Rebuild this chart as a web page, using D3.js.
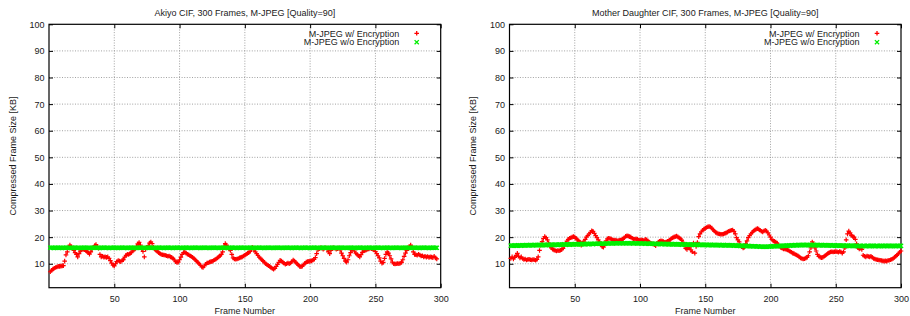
<!DOCTYPE html>
<html><head><meta charset="utf-8">
<script src="https://cdn.jsdelivr.net/npm/d3@7"></script>
<style>
html,body{margin:0;padding:0;background:#fff;}
svg{display:block;font-family:"Liberation Sans",Arial,Helvetica,sans-serif;}
</style></head>
<body>
<svg id="chart" width="910" height="316"></svg>
<script>
// ---------- data ----------
const titles = ["Akiyo CIF, 300 Frames, M-JPEG [Quality=90]", "Mother Daughter CIF, 300 Frames, M-JPEG [Quality=90]"];
const seriesNames = ["M-JPEG w/ Encryption", "M-JPEG w/o Encryption"];
const xLabel = "Frame Number";
const yLabel = "Compressed Frame Size [KB]";
const xTicks = [50, 100, 150, 200, 250, 300];
const yTicks = [10, 20, 30, 40, 50, 60, 70, 80, 90, 100];

// Akiyo, with encryption (frames 1..297)
const akiyoEnc = [
 7.0, 7.5, 8.0, 8.3, 8.6, 8.8, 9.0, 9.0, 9.1, 9.2,
 9.3, 11.0, 13.3, 14.5, 16.0, 17.0, 16.5, 15.8, 15.0, 14.2,
 13.5, 12.6, 13.8, 14.8, 15.2, 15.5, 15.3, 15.0, 14.6, 14.2,
 13.6, 14.5, 15.5, 16.2, 16.8, 17.2, 16.5, 15.8, 13.5, 12.6,
 12.8, 12.5, 12.6, 12.4, 12.6, 12.0, 11.2, 10.2, 9.5, 9.2,
 10.0, 10.8, 11.2, 11.0, 10.8, 11.3, 11.5, 12.5, 13.2, 13.6,
 13.5, 13.8, 14.2, 14.8, 15.2, 15.6, 16.5, 17.5, 18.0, 17.0,
 15.7, 14.6, 12.6, 15.4, 16.0, 16.8, 17.8, 18.2, 17.6, 16.2,
 15.5, 15.0, 14.6, 14.2, 13.8, 13.5, 13.4, 13.3, 13.2, 13.0,
 12.8, 12.9, 12.6, 12.4, 12.0, 11.5, 10.8, 10.5, 10.6, 11.5,
 12.5, 13.5, 14.2, 14.4, 14.0, 13.6, 13.4, 13.0, 12.7, 12.4,
 12.0, 11.5, 11.0, 10.5, 10.0, 9.5, 8.8, 8.6, 9.2, 9.8,
 10.3, 10.4, 10.6, 10.8, 10.9, 11.2, 11.5, 11.8, 12.2, 12.6,
 13.0, 13.5, 14.5, 16.5, 17.6, 17.0, 16.2, 15.5, 15.0, 13.5,
 12.2, 11.8, 11.7, 11.8, 12.0, 12.2, 12.4, 12.6, 12.9, 13.2,
 13.6, 13.9, 14.2, 14.6, 15.5, 16.2, 15.2, 14.5, 13.8, 13.2,
 12.5, 12.0, 11.5, 11.0, 10.5, 10.0, 9.6, 9.3, 9.0, 8.6,
 8.2, 8.0, 8.3, 9.0, 9.8, 10.5, 11.3, 11.0, 10.6, 10.2,
 9.8, 10.0, 10.3, 10.0, 10.3, 10.8, 11.4, 11.0, 10.5, 10.0,
 9.5, 9.0, 8.9, 9.1, 9.6, 10.2, 10.6, 10.8, 10.9, 11.0,
 11.1, 11.3, 11.6, 12.3, 13.8, 15.2, 15.7, 16.0, 15.8, 15.5,
 15.8, 16.0, 15.6, 14.5, 13.8, 15.0, 15.9, 16.0, 15.8, 15.5,
 15.7, 15.9, 15.2, 14.0, 13.0, 12.0, 11.0, 10.6, 11.5, 13.0,
 14.2, 15.0, 15.4, 14.8, 14.0, 13.5, 13.0, 12.6, 13.4, 14.3,
 14.8, 15.0, 15.2, 15.5, 15.6, 15.8, 15.7, 15.5, 15.2, 14.6,
 13.8, 13.0, 12.2, 11.0, 10.2, 10.5, 12.0, 13.5, 14.5, 14.0,
 13.0, 11.8, 10.6, 10.0, 9.9, 10.0, 10.1, 10.0, 10.2, 10.5,
 11.5, 12.8, 14.0, 15.0, 15.8, 16.5, 17.0, 16.2, 14.5, 13.5,
 13.4, 13.2, 13.6, 13.3, 12.9, 13.0, 12.6, 12.8, 12.5, 12.7,
 12.4, 12.6, 12.5, 12.3, 12.8, 12.2, 11.8
];
// Akiyo, without encryption (frames 1..297)
const akiyoPlain = [
 16.0, 16.1, 16.0, 15.9, 16.0, 16.0, 16.1, 16.0, 16.0, 15.9,
 16.0, 16.0, 16.1, 16.0, 16.0, 16.0, 15.9, 16.0, 16.0, 16.1,
 16.0, 16.0, 16.0, 15.9, 16.0, 16.0, 16.1, 16.0, 16.0, 16.0,
 16.0, 15.9, 16.0, 16.0, 16.1, 16.0, 16.0, 16.0, 15.9, 16.0,
 16.0, 16.1, 16.0, 16.0, 16.0, 15.9, 16.0, 16.0, 16.0, 16.1,
 16.0, 16.0, 15.9, 16.0, 16.0, 16.1, 16.0, 16.0, 16.0, 15.9,
 16.0, 16.0, 16.1, 16.0, 16.0, 16.0, 15.9, 16.0, 16.0, 16.1,
 16.0, 16.0, 16.0, 15.9, 16.0, 16.0, 16.1, 16.0, 16.0, 16.0,
 15.9, 16.0, 16.0, 16.1, 16.0, 16.0, 16.0, 15.9, 16.0, 16.0,
 16.1, 16.0, 16.0, 16.0, 15.9, 16.0, 16.0, 16.1, 16.0, 16.0,
 16.0, 15.9, 16.0, 16.0, 16.1, 16.0, 16.0, 16.0, 15.9, 16.0,
 16.0, 16.1, 16.0, 16.0, 16.0, 15.9, 16.0, 16.0, 16.1, 16.0,
 16.0, 16.0, 15.9, 16.0, 16.0, 16.1, 16.0, 16.0, 16.0, 15.9,
 16.0, 16.0, 16.1, 16.0, 16.0, 16.0, 15.9, 16.0, 16.0, 16.1,
 16.0, 16.0, 16.0, 15.9, 16.0, 16.0, 16.1, 16.0, 16.0, 16.0,
 15.9, 16.0, 16.0, 16.1, 16.0, 16.0, 16.0, 15.9, 16.0, 16.0,
 16.1, 16.0, 16.0, 16.0, 15.9, 16.0, 16.0, 16.1, 16.0, 16.0,
 16.0, 15.9, 16.0, 16.0, 16.1, 16.0, 16.0, 16.0, 15.9, 16.0,
 16.0, 16.1, 16.0, 16.0, 16.0, 15.9, 16.0, 16.0, 16.1, 16.0,
 16.0, 16.0, 15.9, 16.0, 16.0, 16.1, 16.0, 16.0, 16.0, 15.9,
 16.0, 16.0, 16.1, 16.0, 16.0, 16.0, 15.9, 16.0, 16.0, 16.1,
 16.0, 16.0, 16.0, 15.9, 16.0, 16.0, 16.1, 16.0, 16.0, 16.0,
 15.9, 16.0, 16.0, 16.1, 16.0, 16.0, 16.0, 15.9, 16.0, 16.0,
 16.1, 16.0, 16.0, 16.0, 15.9, 16.0, 16.0, 16.1, 16.0, 16.0,
 16.0, 15.9, 16.0, 16.0, 16.1, 16.0, 16.0, 16.0, 15.9, 16.0,
 16.0, 16.1, 16.0, 16.0, 16.0, 15.9, 16.0, 16.0, 16.1, 16.0,
 16.0, 16.0, 15.9, 16.0, 16.0, 16.1, 16.0, 16.0, 16.0, 15.9,
 16.0, 16.0, 16.1, 16.0, 16.0, 16.0, 15.9, 16.0, 16.0, 16.1,
 16.0, 16.0, 16.0, 15.9, 16.0, 16.0, 16.1, 16.0, 16.0, 16.0,
 15.9, 16.0, 16.0, 16.1, 16.0, 16.0, 16.0
];
// Mother Daughter, with encryption (frames 1..300)
const motherEnc = [
 12.0, 12.6, 11.8, 12.4, 13.2, 13.9, 12.8, 12.2, 12.6, 12.0,
 11.6, 11.8, 11.4, 11.6, 11.7, 11.5, 11.4, 11.6, 11.5, 11.3,
 11.6, 12.6, 15.0, 17.0, 18.3, 19.5, 20.2, 19.8, 19.0, 17.8,
 16.8, 16.0, 15.5, 15.2, 15.0, 14.8, 15.0, 14.9, 15.1, 15.3,
 15.8, 16.8, 17.4, 18.5, 19.2, 19.6, 19.8, 20.0, 20.2, 20.0,
 19.6, 19.0, 18.6, 18.2, 17.0, 17.8, 18.5, 19.2, 20.0, 20.6,
 21.2, 21.8, 22.4, 22.2, 21.4, 20.6, 19.8, 19.0, 18.2, 17.2,
 16.4, 16.2, 17.0, 18.6, 19.4, 19.6, 19.5, 19.3, 19.0, 18.8,
 18.9, 18.7, 18.6, 18.8, 18.9, 19.0, 19.4, 19.8, 20.3, 20.5,
 20.4, 20.2, 20.0, 19.6, 19.3, 19.2, 19.4, 19.2, 18.9, 18.8,
 19.0, 18.8, 18.7, 19.2, 19.0, 18.6, 18.2, 17.8, 17.6, 17.4,
 17.2, 16.8, 17.6, 18.2, 18.4, 18.6, 18.5, 18.3, 18.1, 18.2,
 18.4, 18.6, 19.0, 19.5, 19.8, 20.0, 20.2, 20.4, 20.1, 19.8,
 19.4, 18.9, 18.0, 17.0, 15.8, 15.4, 16.2, 16.0, 15.2, 14.5,
 17.8, 14.0, 16.5, 18.0, 20.2, 21.2, 22.0, 22.6, 23.0, 23.3,
 23.6, 23.9, 24.0, 23.8, 23.4, 22.8, 22.3, 21.8, 21.5, 21.3,
 21.2, 21.1, 21.1, 21.2, 21.4, 21.6, 21.9, 22.2, 22.4, 22.6,
 22.7, 22.2, 21.2, 19.8, 19.0, 18.2, 16.8, 16.4, 15.9, 16.2,
 17.5, 18.6, 19.8, 20.6, 21.2, 21.8, 22.3, 22.7, 23.0, 23.2,
 23.0, 22.6, 22.2, 22.0, 22.3, 22.6, 22.3, 21.6, 20.8, 20.0,
 19.2, 18.6, 18.4, 18.2, 17.8, 17.2, 16.6, 16.0, 15.8, 15.6,
 15.6, 15.4, 15.2, 15.0, 14.6, 14.3, 14.0, 13.8, 13.5, 13.3,
 13.0, 12.6, 12.2, 12.0, 11.8, 11.9, 12.1, 12.4, 13.0, 14.5,
 16.0, 18.2, 17.6, 16.0, 14.8, 13.5, 12.8, 12.5, 12.3, 12.4,
 12.7, 13.1, 13.5, 13.9, 14.2, 14.4, 14.5, 14.4, 14.5, 14.6,
 14.5, 14.3, 14.6, 14.4, 14.0, 14.5, 16.0, 19.0, 21.2, 22.3,
 21.6, 20.6, 20.3, 20.0, 19.2, 17.5, 16.0, 15.6, 15.8, 15.4,
 13.2, 12.8, 12.6, 12.9, 12.7, 12.6, 12.8, 12.4, 12.0, 11.8,
 11.6, 11.5, 11.4, 11.3, 11.2, 11.1, 11.0, 11.1, 11.0, 11.2,
 11.3, 11.5, 11.7, 12.0, 12.4, 12.8, 13.3, 13.8, 14.3, 14.8
];
// Mother Daughter, without encryption (frames 1..300)
const motherPlain = [
 16.8, 16.8, 16.8, 16.9, 16.8, 16.8, 16.9, 16.9, 16.8, 16.9,
 16.9, 16.9, 17.0, 16.9, 16.9, 17.0, 17.0, 16.9, 17.0, 17.0,
 17.0, 17.0, 17.1, 17.0, 17.0, 17.1, 17.1, 17.0, 17.1, 17.1,
 17.1, 17.2, 17.1, 17.1, 17.2, 17.2, 17.1, 17.2, 17.2, 17.2,
 17.2, 17.3, 17.2, 17.3, 17.3, 17.2, 17.3, 17.3, 17.3, 17.4,
 17.3, 17.3, 17.4, 17.4, 17.3, 17.4, 17.4, 17.4, 17.5, 17.4,
 17.4, 17.5, 17.5, 17.4, 17.5, 17.5, 17.5, 17.6, 17.5, 17.5,
 17.6, 17.6, 17.5, 17.6, 17.6, 17.6, 17.7, 17.6, 17.6, 17.7,
 17.7, 17.6, 17.7, 17.7, 17.7, 17.7, 17.6, 17.7, 17.7, 17.7,
 17.7, 17.6, 17.7, 17.7, 17.6, 17.7, 17.7, 17.6, 17.6, 17.7,
 17.6, 17.6, 17.6, 17.5, 17.6, 17.6, 17.5, 17.5, 17.6, 17.5,
 17.5, 17.5, 17.4, 17.5, 17.5, 17.4, 17.4, 17.5, 17.4, 17.4,
 17.4, 17.3, 17.4, 17.4, 17.3, 17.3, 17.4, 17.3, 17.3, 17.3,
 17.3, 17.2, 17.3, 17.3, 17.2, 17.2, 17.3, 17.2, 17.2, 17.2,
 17.2, 17.1, 17.2, 17.2, 17.1, 17.1, 17.2, 17.1, 17.1, 17.1,
 17.1, 17.0, 17.1, 17.1, 17.0, 17.0, 17.1, 17.0, 17.0, 17.0,
 17.0, 16.9, 17.0, 17.0, 16.9, 16.9, 17.0, 16.9, 16.9, 16.9,
 16.9, 16.8, 16.9, 16.8, 16.8, 16.8, 16.7, 16.8, 16.7, 16.7,
 16.7, 16.6, 16.7, 16.6, 16.6, 16.6, 16.5, 16.6, 16.5, 16.5,
 16.5, 16.4, 16.5, 16.4, 16.4, 16.4, 16.4, 16.5, 16.4, 16.5,
 16.5, 16.6, 16.5, 16.6, 16.6, 16.7, 16.6, 16.7, 16.7, 16.8,
 16.7, 16.8, 16.8, 16.9, 16.8, 16.9, 16.9, 16.9, 17.0, 16.9,
 17.0, 17.0, 17.0, 17.0, 17.1, 17.0, 17.0, 17.1, 17.0, 17.0,
 17.0, 17.0, 17.1, 17.0, 17.0, 17.0, 16.9, 17.0, 17.0, 16.9,
 16.9, 17.0, 16.9, 16.9, 16.9, 16.9, 16.8, 16.9, 16.9, 16.8,
 16.8, 16.9, 16.8, 16.8, 16.8, 16.8, 16.7, 16.8, 16.8, 16.7,
 16.7, 16.8, 16.7, 16.7, 16.7, 16.7, 16.6, 16.7, 16.7, 16.6,
 16.7, 16.7, 16.6, 16.7, 16.7, 16.6, 16.7, 16.7, 16.7, 16.6,
 16.7, 16.7, 16.6, 16.7, 16.7, 16.7, 16.6, 16.7, 16.7, 16.7,
 16.7, 16.6, 16.7, 16.7, 16.7, 16.6, 16.7, 16.7, 16.7, 16.7
];

// ---------- drawing ----------
const svg = d3.select("#chart");
const panels = [
  {title: titles[0], enc: akiyoEnc, plain: akiyoPlain, x0: 49, x1: 440.7},
  {title: titles[1], enc: motherEnc, plain: motherPlain, x0: 509.5, x1: 901}
];
const yTop = 24.3, yBot = 287.7;
const textColor = "#1a1a1a";
const redC = "#ff0000", greenC = "#00ee00";

panels.forEach(p => {
  const x = d3.scaleLinear().domain([0, 300]).range([p.x0, p.x1]);
  const y = d3.scaleLinear().domain([1, 100]).range([yBot, yTop]);
  const g = svg.append("g");

  // grid
  const grid = g.append("g").attr("stroke", "#8a8a8a").attr("stroke-width", 0.8).attr("stroke-dasharray", "1,1.6");
  grid.selectAll("line.gx").data(xTicks.filter(t => t < 300)).join("line")
    .attr("x1", d => x(d)).attr("x2", d => x(d)).attr("y1", yTop).attr("y2", yBot);
  grid.selectAll("line.gy").data(yTicks.filter(t => t < 100)).join("line")
    .attr("x1", p.x0).attr("x2", p.x1).attr("y1", d => y(d)).attr("y2", d => y(d));

  // axes with inward ticks
  const ax = g.append("g").attr("transform", `translate(0,${yBot})`)
    .call(d3.axisBottom(x).tickValues(xTicks).tickSizeInner(-4).tickSizeOuter(0).tickPadding(8));
  const axTop = g.append("g").attr("transform", `translate(0,${yTop})`)
    .call(d3.axisTop(x).tickValues(xTicks).tickSizeInner(-4).tickSizeOuter(0).tickFormat(""));
  const ay = g.append("g").attr("transform", `translate(${p.x0},0)`)
    .call(d3.axisLeft(y).tickValues(yTicks).tickSizeInner(-4).tickSizeOuter(0).tickPadding(8));
  const ayR = g.append("g").attr("transform", `translate(${p.x1},0)`)
    .call(d3.axisRight(y).tickValues(yTicks).tickSizeInner(-4).tickSizeOuter(0).tickFormat(""));
  [ax, axTop, ay, ayR].forEach(a => {
    a.select(".domain").remove();
    a.selectAll("line").attr("stroke", "#000").attr("stroke-width", 1);
    a.selectAll("text").attr("fill", textColor).attr("font-size", 9).attr("font-family", "Liberation Sans, Arial, sans-serif");
  });
  ay.selectAll("text").attr("x", -4.5);

  // frame
  g.append("rect").attr("x", p.x0).attr("y", yTop).attr("width", p.x1 - p.x0).attr("height", yBot - yTop)
    .attr("fill", "none").attr("stroke", "#000").attr("stroke-width", 1.2);

  // red "+" points
  const rs = 2.3;
  const plus = (cx, cy) => `M${cx - rs},${cy}H${cx + rs}M${cx},${cy - rs}V${cy + rs}`;
  g.append("path").attr("fill", "none").attr("stroke", redC).attr("stroke-width", 1.2)
    .attr("d", p.enc.map((v, i) => plus(x(i + 1), y(v))).join(""));

  // green "x" points
  const gs = 2.1;
  const cross = (cx, cy) => `M${cx - gs},${cy - gs}L${cx + gs},${cy + gs}M${cx - gs},${cy + gs}L${cx + gs},${cy - gs}`;
  g.append("path").attr("fill", "none").attr("stroke", greenC).attr("stroke-width", 1.3)
    .attr("d", p.plain.map((v, i) => cross(x(i + 1), y(v))).join(""));

  // title
  g.append("text").attr("x", (p.x0 + p.x1) / 2).attr("y", 15.5).attr("text-anchor", "middle")
    .attr("font-size", 9).attr("fill", textColor).text(p.title);
  // x label
  g.append("text").attr("x", (p.x0 + p.x1) / 2).attr("y", 313.5).attr("text-anchor", "middle")
    .attr("font-size", 9).attr("fill", textColor).text(xLabel);
  // y label
  g.append("text").attr("transform", `translate(${p.x0 - 36.5},${(yTop + yBot) / 2}) rotate(-90)`)
    .attr("text-anchor", "middle").attr("dominant-baseline", "central").attr("font-size", 9).attr("fill", textColor).text(yLabel);

  // legend
  const lx = p.x1 - 24, ly = [33.3, 42.2];
  seriesNames.forEach((name, k) => {
    g.append("text").attr("x", lx - 17.5).attr("y", ly[k] + 3.2).attr("text-anchor", "end")
      .attr("font-size", 9).attr("fill", textColor).text(name);
    g.append("path").attr("fill", "none").attr("stroke", k === 0 ? redC : greenC).attr("stroke-width", 1.3)
      .attr("d", k === 0 ? plus(lx, ly[k]) : cross(lx, ly[k]));
  });
});
</script>
</body></html>
